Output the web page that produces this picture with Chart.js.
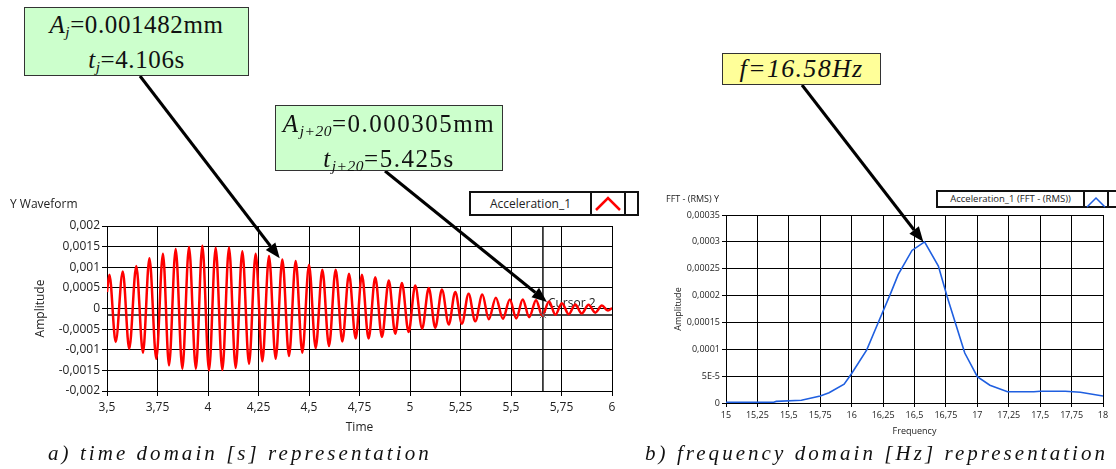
<!DOCTYPE html>
<html>
<head>
<meta charset="utf-8">
<script src="https://cdn.jsdelivr.net/npm/chart.js@4"></script>
<style>
  body { margin: 0; background: #fff; }
  #wrap { position: relative; width: 1116px; height: 469px; overflow: hidden; font-family: "Open Sans", sans-serif; color: #222; }
  canvas { position: absolute; top: 0; }
  .note { position: absolute; box-sizing: border-box; border: 1.5px solid #333; text-align: center;
          font-family: "Liberation Serif", serif; color: #111; white-space: nowrap; }
  .note sub { font-size: 62%; vertical-align: -0.25em; font-style: italic; letter-spacing: 0.5px; }
  .cap { position: absolute; font-family: "Liberation Serif", serif; font-style: italic; font-size: 21px;
         line-height: 24px; white-space: nowrap; color: #111; }
  .legend { position: absolute; box-sizing: border-box; border: 2px solid #111; display: flex; background: #fff; }
  .legend .txt { text-align: center; white-space: nowrap; }
  .legend .smp { border-left: 2px solid #111; border-right: 2px solid #111; }
</style>
</head>
<body>
<div id="wrap">
  <canvas id="timeChart" width="660" height="469" style="left:0"></canvas>
  <canvas id="fftChart" width="456" height="469" style="left:660px"></canvas>

  <div style="position:absolute;left:10px;top:195px;font-size:12px">Y Waveform</div>
  <div style="position:absolute;left:666px;top:192px;font-size:9px">FFT - (RMS) Y</div>

  <div class="legend" style="left:469px;top:191px;width:170px;height:25px">
    <div class="txt" style="width:119px;font-size:12px;line-height:21px">Acceleration_1</div>
    <div class="smp" style="width:32px">
      <svg width="32" height="21"><polyline points="4,17 16,5 28,17" fill="none" stroke="#ff0000" stroke-width="2.5"/></svg>
    </div>
  </div>
  <div class="legend" style="left:936px;top:190px;width:190px;height:18px">
    <div class="txt" style="width:145px;font-size:9.5px;line-height:14px">Acceleration_1 (FFT - (RMS))</div>
    <div class="smp" style="width:22px">
      <svg width="22" height="14"><polyline points="2,12 11,3 20,12" fill="none" stroke="#1f5fe0" stroke-width="1.5"/></svg>
    </div>
  </div>

  <div class="note" style="left:24px;top:7px;width:225px;height:69px;background:#ccffcc;font-size:25px;line-height:28px;padding-top:3px;letter-spacing:0.6px">
    <i>A<sub>j</sub></i>=0.001482mm<br><i>t<sub>j</sub></i>=4.106s
  </div>
  <div class="note" style="left:275px;top:105px;width:228px;height:66px;background:#ccffcc;font-size:25px;line-height:28px;padding-top:4px;letter-spacing:1.5px">
    <i>A<sub>j+20</sub></i>=0.000305mm<br><i>t<sub>j+20</sub></i>=5.425s
  </div>
  <div class="note" style="left:722px;top:53px;width:159px;height:32px;background:#ffff99;font-size:26px;line-height:30px;font-style:italic;letter-spacing:1.3px">
    f=16.58Hz
  </div>

  <div class="cap" style="left:48px;top:441px;letter-spacing:3.05px">a) time domain [s] representation</div>
  <div class="cap" style="left:645px;top:441px;letter-spacing:3.05px">b) frequency domain [Hz] representation</div>
</div>

<script>
// time domain waveform (peaks and troughs)
const waveTime = [3.5, 3.512, 3.543, 3.578, 3.61, 3.645, 3.678, 3.71, 3.744, 3.777, 3.807, 3.84, 3.873, 3.906,
  3.94, 3.972, 4.005, 4.038, 4.071, 4.104, 4.137, 4.17, 4.203, 4.236, 4.269, 4.302, 4.335, 4.368, 4.401, 4.434,
  4.467, 4.5, 4.533, 4.566, 4.599, 4.632, 4.665, 4.698, 4.731, 4.762, 4.795, 4.828, 4.861, 4.895, 4.927, 4.96,
  4.993, 5.026, 5.06, 5.093, 5.125, 5.158, 5.192, 5.224, 5.257, 5.29, 5.323, 5.358, 5.39, 5.425, 5.46, 5.494,
  5.526, 5.558, 5.59, 5.624, 5.655, 5.688, 5.72, 5.752, 5.786, 5.818, 5.85, 5.884, 5.917, 5.95, 5.98, 6.0];
const waveAmp = [0.0004, 0.00082, -0.00081, 0.0009, -0.00098, 0.00103, -0.00107, 0.00122, -0.00122, 0.00133,
  -0.00138, 0.00144, -0.00146, 0.00149, -0.00146, 0.00152, -0.0015, 0.00147, -0.00149, 0.00148, -0.00144,
  0.00139, -0.00134, 0.00133, -0.00128, 0.00127, -0.00122, 0.00119, -0.00115, 0.00115, -0.00107, 0.00106,
  -0.00096, 0.00094, -0.00091, 0.00094, -0.0008, 0.00084, -0.00073, 0.00082, -0.00073, 0.00076, -0.00069,
  0.00068, -0.00061, 0.00062, -0.00057, 0.00056, -0.00049, 0.0005, -0.00047, 0.00046, -0.00039, 0.0004,
  -0.00037, 0.00036, -0.00031, 0.00034, -0.00026, 0.00026, -0.00025, 0.00022, -0.00024, 0.00022, -0.00021,
  0.0002, -0.00018, 0.00017, -0.00015, 0.00013, -0.00014, 0.0001, -0.00012, 0.00009, -0.0001, 0.00007,
  -0.00005, 0.00001];

// FFT spectrum
const fftFreq = [15, 15.38, 15.4, 15.6, 15.75, 15.82, 15.94, 16.0, 16.12, 16.21, 16.31, 16.37, 16.48, 16.58,
  16.69, 16.76, 16.9, 17.0, 17.1, 17.24, 17.45, 17.5, 17.7, 17.82, 18];
const fftAmp = [0.0000012, 0.0000015, 0.000003, 0.000005, 0.000013, 0.000019, 0.000035, 0.000055, 0.000099,
  0.000149, 0.000204, 0.000239, 0.000284, 0.0003, 0.000255, 0.000198, 0.000093, 0.000049, 0.000033, 0.000021,
  0.000021, 0.000022, 0.000022, 0.00002, 0.000013];

// tick labels (ascending)
const timeTicks = ['3,5', '3,75', '4', '4,25', '4,5', '4,75', '5', '5,25', '5,5', '5,75', '6'];
const ampTicks = ['-0,002', '-0,0015', '-0,001', '-0,0005', '0', '0,0005', '0,001', '0,0015', '0,002'];
const freqTicks = ['15', '15,25', '15,5', '15,75', '16', '16,25', '16,5', '16,75', '17', '17,25', '17,5', '17,75', '18'];
const fftTicks = ['0', '5E-5', '0,0001', '0,00015', '0,0002', '0,00025', '0,0003', '0,00035'];

// cursor 2 and arrow tips in data units
const cursorTime = 5.658;
const cursorAmp = -0.00016;
const waveTips = [[4.355, 0.00122], [5.678, 0.00016]];
const fftTips = [[16.57, 0.0003]];

function drawArrow(ctx, sx, sy, tx, ty) {
  const ang = Math.atan2(ty - sy, tx - sx);
  const len = 15, half = 6;
  const bx = tx - len * Math.cos(ang), by = ty - len * Math.sin(ang);
  ctx.save();
  ctx.strokeStyle = '#000';
  ctx.fillStyle = '#000';
  ctx.lineWidth = 3;
  ctx.beginPath();
  ctx.moveTo(sx, sy);
  ctx.lineTo(bx, by);
  ctx.stroke();
  ctx.beginPath();
  ctx.moveTo(tx, ty);
  ctx.lineTo(bx + half * Math.sin(ang), by - half * Math.cos(ang));
  ctx.lineTo(bx - half * Math.sin(ang), by + half * Math.cos(ang));
  ctx.closePath();
  ctx.fill();
  ctx.restore();
}

// arrows from the note boxes to the chart points
const arrowPlugin = {
  id: 'arrows',
  afterDraw(chart, args, opts) {
    const xs = chart.scales.x, ys = chart.scales.y;
    opts.list.forEach(a => {
      drawArrow(chart.ctx, a.from[0], a.from[1], xs.getPixelForValue(a.tip[0]), ys.getPixelForValue(a.tip[1]));
    });
  }
};

// LabVIEW-like cursor
const cursorPlugin = {
  id: 'cursor',
  beforeDatasetsDraw(chart) {
    const {ctx, chartArea: ca} = chart;
    const x = chart.scales.x.getPixelForValue(cursorTime);
    const y = chart.scales.y.getPixelForValue(cursorAmp);
    ctx.save();
    ctx.strokeStyle = '#111';
    ctx.lineWidth = 1.5;
    ctx.beginPath();
    ctx.moveTo(x, ca.top); ctx.lineTo(x, ca.bottom);
    ctx.moveTo(ca.left, y); ctx.lineTo(ca.right, y);
    ctx.stroke();
    ctx.fillStyle = '#222';
    ctx.font = '12px "Open Sans"';
    ctx.fillText('Cursor 2', x + 5, y - 8);
    ctx.restore();
  },
  afterDatasetsDraw(chart) {
    const {ctx} = chart;
    const x = chart.scales.x.getPixelForValue(cursorTime);
    const y = chart.scales.y.getPixelForValue(cursorAmp);
    ctx.save();
    ctx.strokeStyle = '#666';
    ctx.lineWidth = 1;
    ctx.beginPath();
    ctx.moveTo(x - 3, y - 3); ctx.lineTo(x + 3, y + 3);
    ctx.moveTo(x + 3, y - 3); ctx.lineTo(x - 3, y + 3);
    ctx.stroke();
    ctx.restore();
  }
};

const gridStyle = { color: '#000', lineWidth: 1, tickLength: 5 };

document.addEventListener('DOMContentLoaded', () => {

  new Chart(document.querySelector('#timeChart'), {
    type: 'line',
    data: {
      datasets: [{
        label: 'Acceleration_1',
        data: waveTime.map((t, i) => ({ x: t, y: waveAmp[i] })),
        borderColor: '#ff0000',
        borderWidth: 2.5,
        pointRadius: 0,
        cubicInterpolationMode: 'monotone'
      }]
    },
    options: {
      responsive: false,
      animation: false,
      layout: { padding: { left: 33, right: 48, top: 226, bottom: 34 } },
      plugins: {
        legend: { display: false },
        tooltip: { enabled: false },
        arrows: { list: [
          { from: [140, 76], tip: waveTips[0] },
          { from: [385, 171], tip: waveTips[1] }
        ] }
      },
      scales: {
        x: {
          type: 'linear', min: 3.5, max: 6,
          afterFit: axis => { axis.height = 44; },
          ticks: { stepSize: 0.25, autoSkip: false, maxRotation: 0, padding: 4, color: '#222',
                   font: { family: 'Open Sans', size: 12 }, callback: (v, i) => timeTicks[i] },
          grid: gridStyle,
          border: { color: '#000' },
          title: { display: true, text: 'Time', color: '#222', padding: 0, font: { family: 'Open Sans', size: 12 } }
        },
        y: {
          min: -0.002, max: 0.002,
          afterFit: axis => { axis.width = 74; },
          ticks: { stepSize: 0.0005, autoSkip: false, padding: 2, color: '#222',
                   font: { family: 'Open Sans', size: 12 }, callback: (v, i) => ampTicks[i] },
          grid: gridStyle,
          border: { color: '#000' },
          title: { display: true, text: 'Amplitude', color: '#222', padding: 0, font: { family: 'Open Sans', size: 12 } }
        }
      }
    },
    plugins: [cursorPlugin, arrowPlugin]
  });

  new Chart(document.querySelector('#fftChart'), {
    type: 'line',
    data: {
      datasets: [{
        label: 'Acceleration_1 (FFT - (RMS))',
        data: fftFreq.map((f, i) => ({ x: f, y: fftAmp[i] })),
        borderColor: '#1f5fe0',
        borderWidth: 1.6,
        pointRadius: 0,
        tension: 0
      }]
    },
    options: {
      responsive: false,
      animation: false,
      layout: { padding: { left: 13, right: 13, top: 215, bottom: 32 } },
      plugins: {
        legend: { display: false },
        tooltip: { enabled: false },
        arrows: { list: [ { from: [142, 85], tip: fftTips[0] } ] }
      },
      scales: {
        x: {
          type: 'linear', min: 15, max: 18,
          afterFit: axis => { axis.height = 34; },
          ticks: { stepSize: 0.25, autoSkip: false, maxRotation: 0, padding: 3, color: '#222',
                   font: { family: 'Open Sans', size: 9 }, callback: (v, i) => freqTicks[i] },
          grid: { color: '#000', lineWidth: 1, tickLength: 4 },
          border: { color: '#000' },
          title: { display: true, text: 'Frequency', color: '#222', padding: 0, font: { family: 'Open Sans', size: 9 } }
        },
        y: {
          min: 0, max: 0.00035,
          afterFit: axis => { axis.width = 53; },
          ticks: { stepSize: 0.00005, autoSkip: false, padding: 2, color: '#222',
                   font: { family: 'Open Sans', size: 9 }, callback: (v, i) => fftTicks[i] },
          grid: { color: '#000', lineWidth: 1, tickLength: 4 },
          border: { color: '#000' },
          title: { display: true, text: 'Amplitude', color: '#222', padding: 0, font: { family: 'Open Sans', size: 9 } }
        }
      }
    },
    plugins: [arrowPlugin]
  });

});
</script>
</body>
</html>
